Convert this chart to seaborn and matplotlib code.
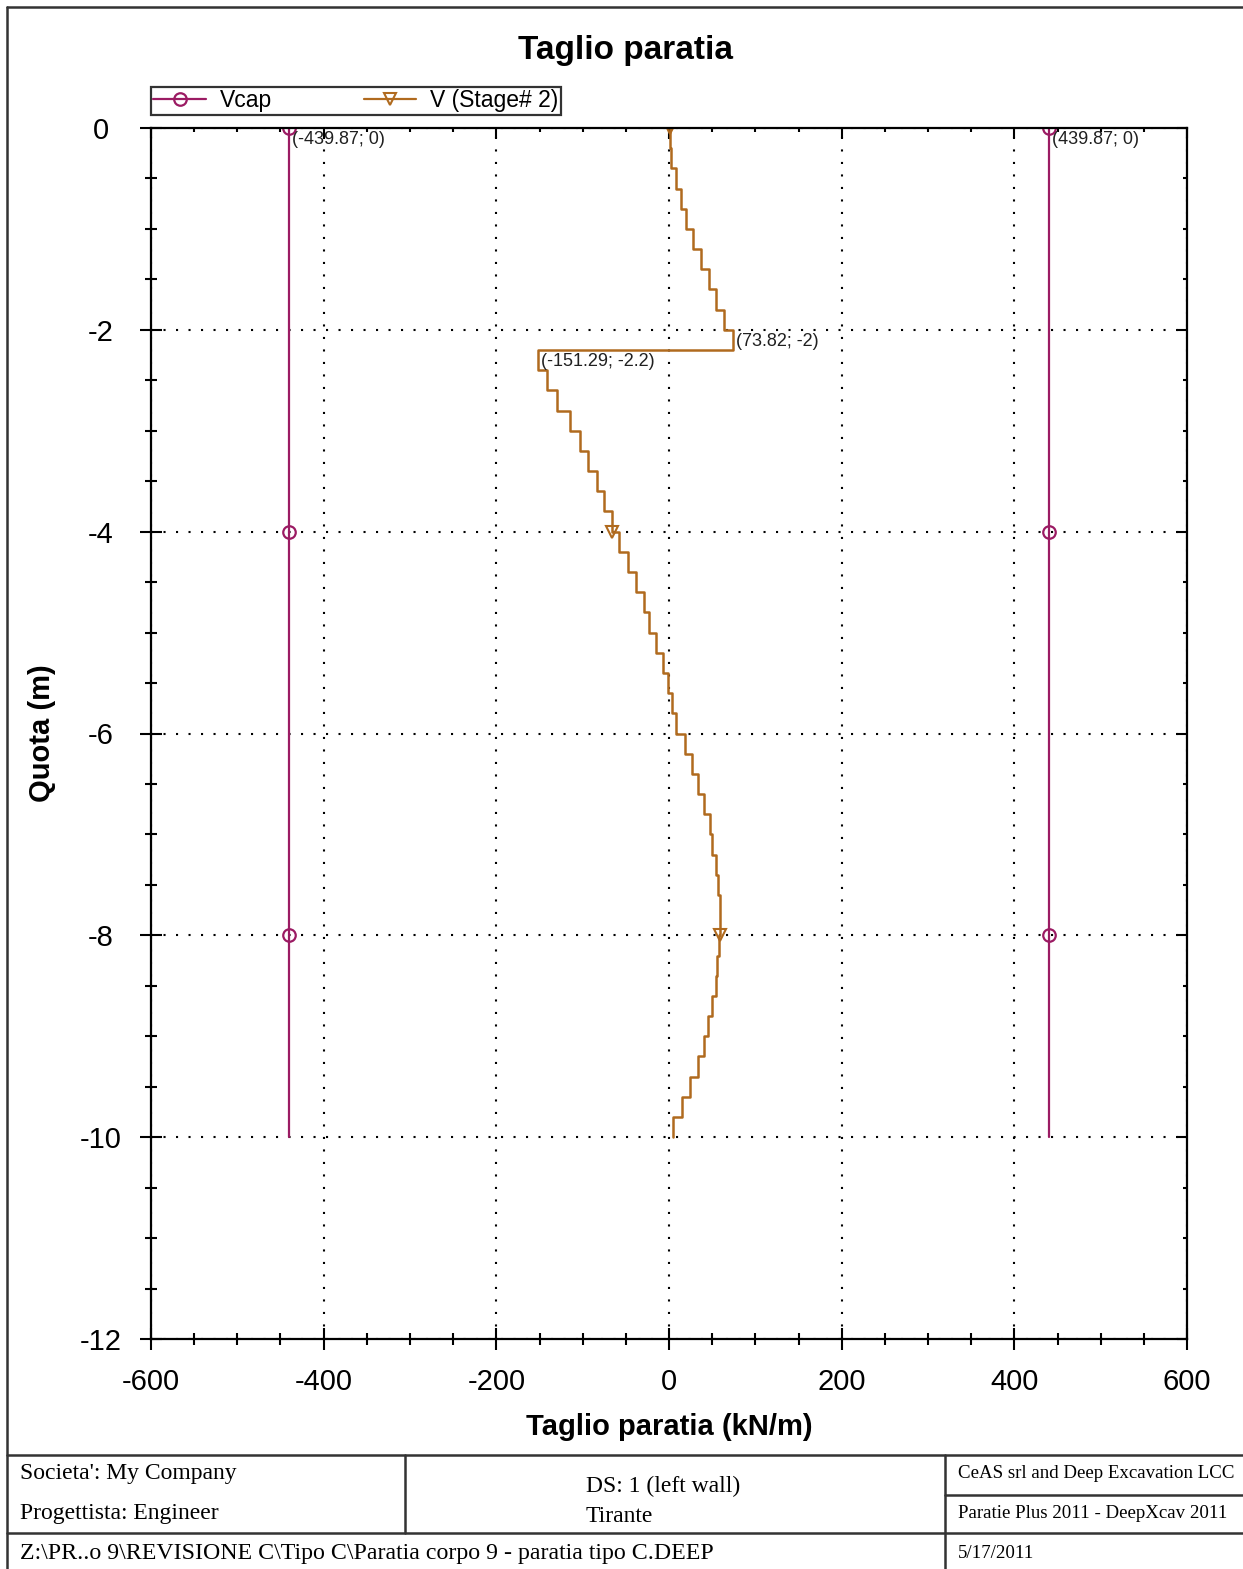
import numpy as np
import matplotlib.pyplot as plt
import seaborn as sns
from matplotlib.lines import Line2D
from matplotlib.ticker import MultipleLocator

# --- dati ---
vcap = 439.87
vcap_quota = [0, -2, -4, -6, -8, -10]

# nodi della paratia (m) e taglio per elemento (kN/m)
quota_nodi = [0, -0.2, -0.4, -0.6, -0.8, -1.0, -1.2, -1.4, -1.6, -1.8, -2.0,
              -2.2, -2.4, -2.6, -2.8, -3.0, -3.2, -3.4, -3.6, -3.8, -4.0,
              -4.2, -4.4, -4.6, -4.8, -5.0, -5.2, -5.4, -5.6, -5.8, -6.0,
              -6.2, -6.4, -6.6, -6.8, -7.0, -7.2, -7.4, -7.6, -7.8, -8.0,
              -8.2, -8.4, -8.6, -8.8, -9.0, -9.2, -9.4, -9.6, -9.8, -10.0]
taglio = [1.0, 2.8, 8.0, 13.5, 19.7, 27.4, 37.0, 46.0, 54.4, 63.7,
          73.82, -151.29, -141.7, -129.3, -114.7, -103.0, -93.5, -83.8, -75.3, -66.4,
          -57.5, -47.9, -38.2, -29.0, -22.8, -15.0, -7.3, -1.5, 3.1, 8.1,
          19.0, 26.3, 34.0, 40.5, 47.5, 49.4, 54.4, 56.4, 58.5, 59.2,
          58.3, 56.0, 54.4, 49.4, 45.5, 40.5, 34.0, 24.3, 14.7, 5.0]

etichette = [(-vcap, 0, '(-439.87; 0)'), (vcap, 0, '(439.87; 0)'),
             (73.82, -2, '(73.82; -2)'), (-151.29, -2.2, '(-151.29; -2.2)')]

col_vcap = '#9B1B63'
col_v = '#B06A1E'

W, H = 1243, 1569
def fx(x):
    return x / W
def fy(y):
    return 1 - y / H

sns.set_theme(style='white')
plt.rcParams['font.family'] = ['Liberation Sans', 'DejaVu Sans']
plt.rcParams['axes.unicode_minus'] = False
plt.rcParams['text.color'] = 'black'

fig = plt.figure(figsize=(W / 100, H / 100), dpi=100)
ax = fig.add_axes([fx(151), fy(1339), fx(1187) - fx(151), fy(128) - fy(1339)])

# Vcap
for s in (-1, 1):
    sns.lineplot(x=[s * vcap] * len(vcap_quota), y=vcap_quota, sort=False, estimator=None,
                 ax=ax, color=col_vcap, lw=1.6, marker='o', markevery=2, ms=9,
                 mfc='none', mec=col_vcap, mew=1.6)

# V (Stage# 2) a gradini
nodi = np.array(quota_nodi)
xs = np.repeat(taglio, 2)
ys = np.column_stack([nodi[:-1], nodi[1:]]).ravel()
idx = [0] + [int(np.where(np.isclose(ys, q))[0][0]) for q in (-4.0, -8.0)]
sns.lineplot(x=xs, y=ys, sort=False, estimator=None, ax=ax, color=col_v, lw=1.8,
             marker='v', markevery=idx, ms=8, mfc='none', mec=col_v, mew=1.5)

for x, y, t in etichette:
    ax.annotate(t, (x, y), xytext=(2, -2), textcoords='offset points',
                ha='left', va='top', fontsize=13, color='#202020')

ax.set_xlim(-600, 600)
ax.set_ylim(-12, 0)
ax.xaxis.set_major_locator(MultipleLocator(200))
ax.xaxis.set_minor_locator(MultipleLocator(50))
ax.yaxis.set_major_locator(MultipleLocator(2))
ax.yaxis.set_minor_locator(MultipleLocator(0.5))
ax.grid(True, which='major', color='black', linestyle=(0, (1, 5)), linewidth=1.5)
for sp in ax.spines.values():
    sp.set_color('black')
    sp.set_linewidth(1.6)
ax.tick_params(which='both', direction='inout', colors='black', width=1.5,
               labelsize=21, left=True, bottom=True, labelcolor='black')
ax.tick_params(which='major', length=16)
ax.tick_params(which='minor', length=8.5)
ax.tick_params(axis='y', pad=28)
ax.tick_params(axis='x', pad=13)
plt.setp(ax.get_yticklabels(), ha='center')

top = ax.secondary_xaxis('top')
top.xaxis.set_major_locator(MultipleLocator(200))
top.xaxis.set_minor_locator(MultipleLocator(50))
top.tick_params(which='both', direction='in', top=True, labeltop=False, width=1.5, colors='black')
top.tick_params(which='major', length=7)
top.tick_params(which='minor', length=3)
right = ax.secondary_yaxis('right')
right.yaxis.set_major_locator(MultipleLocator(2))
right.yaxis.set_minor_locator(MultipleLocator(0.5))
right.tick_params(which='both', direction='in', right=True, labelright=False, width=1.5, colors='black')
right.tick_params(which='major', length=7)
right.tick_params(which='minor', length=3)

ax.set_xlabel('')
ax.set_ylabel('')
fig.text(fx(625), fy(50), 'Taglio paratia', ha='center', va='center', fontsize=24, fontweight='bold')
fig.text(fx(669), fy(1427), 'Taglio paratia (kN/m)', ha='center', va='center', fontsize=21, fontweight='bold')
fig.text(fx(42), fy(733), 'Quota (m)', ha='center', va='center', rotation=90, fontsize=21, fontweight='bold')

handles = [Line2D([], [], color=col_vcap, lw=1.6, marker='o', ms=9, mfc='none', mew=1.6),
           Line2D([], [], color=col_v, lw=1.6, marker='v', ms=8, mfc='none', mew=1.5)]
leg = ax.legend(handles, ['Vcap', 'V (Stage# 2)'], ncol=2, loc='lower left',
                bbox_to_anchor=(0, 1.011), fontsize=16.5, frameon=True, fancybox=False,
                edgecolor='black', borderpad=0.1, handlelength=2.3, handletextpad=0.6,
                columnspacing=4.0, borderaxespad=0)
leg.get_frame().set_linewidth(1.6)
for t in leg.get_texts():
    t.set_color('black')

# cornice e cartiglio
def linea(x0, y0, x1, y1):
    fig.add_artist(Line2D([fx(x0), fx(x1)], [fy(y0), fy(y1)], color='#333333', lw=1.8))

linea(7, 7, 1243, 7)
linea(7, 7, 7, 1569)
linea(7, 1455, 1243, 1455)
linea(7, 1533, 1243, 1533)
linea(405, 1455, 405, 1533)
linea(945, 1455, 945, 1569)
linea(945, 1495, 1243, 1495)

serif = ['Liberation Serif', 'DejaVu Serif']
fig.text(fx(20), fy(1474), "Societa': My Company", family=serif, fontsize=17, va='center')
fig.text(fx(20), fy(1514), 'Progettista: Engineer', family=serif, fontsize=17, va='center')
fig.text(fx(586), fy(1486), 'DS: 1 (left wall)', family=serif, fontsize=17, va='center')
fig.text(fx(586), fy(1516), 'Tirante', family=serif, fontsize=17, va='center')
fig.text(fx(958), fy(1474), 'CeAS srl and Deep Excavation LCC', family=serif, fontsize=13.6, va='center')
fig.text(fx(958), fy(1513), 'Paratie Plus 2011 - DeepXcav 2011', family=serif, fontsize=13.6, va='center')
fig.text(fx(20), fy(1553), 'Z:\\PR..o 9\\REVISIONE C\\Tipo C\\Paratia corpo 9 - paratia tipo C.DEEP',
         family=serif, fontsize=17.2, va='center')
fig.text(fx(958), fy(1553), '5/17/2011', family=serif, fontsize=13.6, va='center')

fig.savefig('out.png', dpi=100)
